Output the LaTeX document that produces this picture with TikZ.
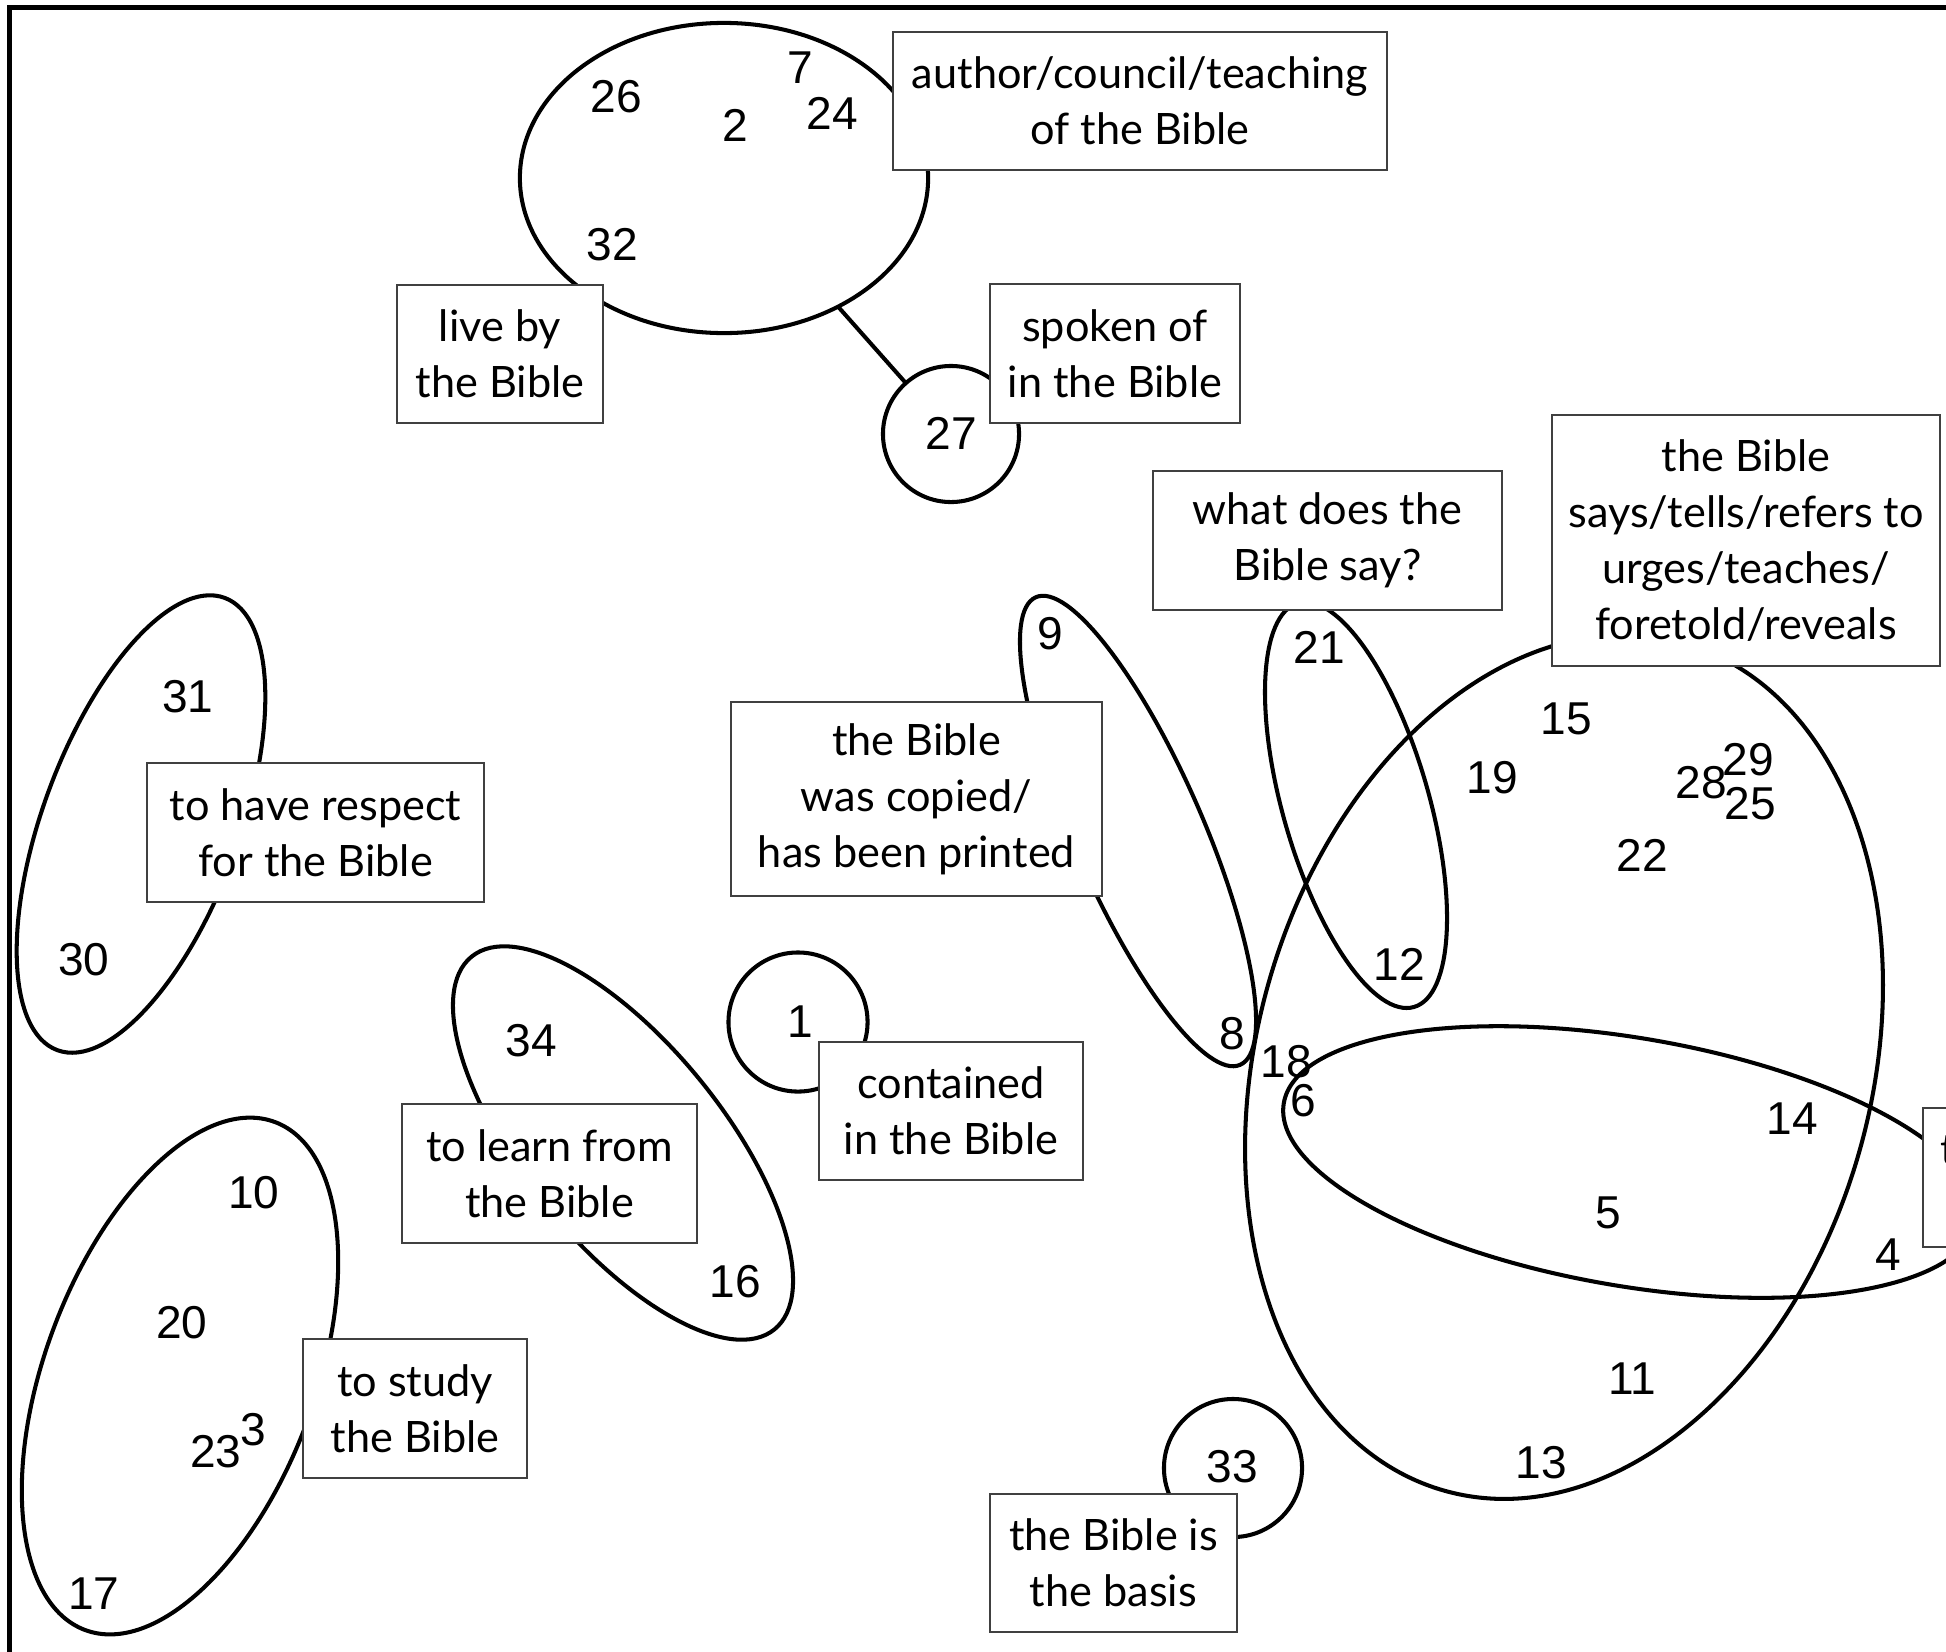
\documentclass[tikz,border=0pt]{standalone}
\usepackage{fontspec}
\setmainfont{Lato}
\newfontfamily\numfont{Liberation Sans}
\usetikzlibrary{shapes.geometric}
\begin{document}
\begin{tikzpicture}[x=0.01cm,y=-0.01cm,
  lbl/.style={draw=black!75, line width=0.4pt, fill=white, align=center, inner sep=0pt, outer sep=0pt,
              font=\fontsize{12.3}{15.9}\selectfont},
  num/.style={font=\numfont\fontsize{13.1}{15}\selectfont, inner sep=0pt},
  grp/.style={draw, ellipse, line width=1.15pt, inner sep=0pt, outer sep=0pt},
  ring/.style={draw, circle, line width=1.15pt, inner sep=0pt, outer sep=0pt},
  frame/.style={line width=1.15pt}]
\useasboundingbox (0,0) rectangle (1946,1651);
\clip (0,0) rectangle (1946,1651);
\fill[white] (0,0) rectangle (1946,1651);
% frame
\coordinate (fb) at (9.5,1700);
\coordinate (fc) at (9.5,7.5);
\coordinate (fr) at (2000,7.5);
\draw[frame] (fb) -- (fc) -- (fr);

% groups (ellipses)
\node[grp, minimum width=4.08cm, minimum height=3.10cm] (eT) at (724,178) {};
\node[grp, rotate=69.7, minimum width=4.82cm, minimum height=1.96cm] (eA) at (141,824) {};
\node[grp, rotate=69.5, minimum width=5.42cm, minimum height=2.70cm] (eB) at (180,1376) {};
\node[grp, rotate=-50.9, minimum width=4.80cm, minimum height=1.99cm] (eC) at (623,1143) {};
\node[grp, rotate=-66.4, minimum width=5.10cm, minimum height=1.29cm] (eD) at (1138,831) {};
\node[grp, rotate=-74, minimum width=4.20cm, minimum height=1.46cm] (eE) at (1356,805) {};
\node[grp, rotate=74.25, minimum width=8.80cm, minimum height=6.14cm] (eF) at (1564,1067) {};
\node[grp, rotate=-9.67, minimum width=7.02cm, minimum height=2.48cm] (eG) at (1630,1162) {};

% single circles
\node[ring, minimum size=1.36cm] (c27) at (951,434) {};
\node[ring, minimum size=1.39cm] (c1) at (798,1022) {};
\node[ring, minimum size=1.38cm] (c33) at (1233,1468) {};
\draw[line width=1.15pt] (eT) -- (c27);

% labels
\node[lbl, minimum width=4.94cm, minimum height=1.38cm] (lAuthor) at (1140,101) {author/council/teaching\\of the Bible};
\node[lbl, minimum width=2.06cm, minimum height=1.38cm] (lLive) at (500,354) {live by\\the Bible};
\node[lbl, minimum width=2.50cm, minimum height=1.39cm] (lSpoken) at (1115,353.5) {spoken of\\in the Bible};
\node[lbl, minimum width=3.49cm, minimum height=1.39cm] (lWhat) at (1327.5,540.5) {what does the\\Bible say?};
\node[lbl, minimum width=3.88cm, minimum height=2.51cm] (lSays) at (1746,540.5) {the Bible\\says/tells/refers to\\urges/teaches/\\foretold/reveals};
\node[lbl, minimum width=3.71cm, minimum height=1.94cm] (lCopied) at (916.5,799) {the Bible\\was copied/\\has been printed};
\node[lbl, minimum width=3.37cm, minimum height=1.39cm] (lRespect) at (315.5,832.5) {to have respect\\for the Bible};
\node[lbl, minimum width=2.95cm, minimum height=1.39cm] (lLearn) at (549.5,1173.5) {to learn from\\the Bible};
\node[lbl, minimum width=2.64cm, minimum height=1.38cm] (lContained) at (951,1111) {contained\\in the Bible};
\node[lbl, minimum width=2.24cm, minimum height=1.39cm] (lStudy) at (415,1408.5) {to study\\the Bible};
\node[lbl, minimum width=2.47cm, minimum height=1.38cm] (lBasis) at (1113.5,1563) {the Bible is\\the basis};
\node[lbl, anchor=north west, minimum width=3.00cm, minimum height=1.39cm] (lCut) at (1923,1108) {};
\node[anchor=west, inner sep=0pt, font=\fontsize{12.3}{15.9}\selectfont] (tCut) at (1940,1150) {t};

% numbers
\node[num] (n26) at (616,97) {26};
\node[num] (n2) at (735,125) {2};
\node[num] (n7) at (800,68) {7};
\node[num] (n24) at (832,113) {24};
\node[num] (n32) at (612,245) {32};
\node[num] (n27) at (951,433) {27};
\node[num] (n31) at (188,697) {31};
\node[num] (n30) at (84,960) {30};
\node[num] (n10) at (254,1193) {10};
\node[num] (n20) at (182,1323) {20};
\node[num] (n23) at (216,1452) {23};
\node[num] (n3) at (253,1430) {3};
\node[num] (n17) at (94,1594) {17};
\node[num] (n34) at (531,1041) {34};
\node[num] (n16) at (735,1282) {16};
\node[num] (n1) at (800,1022) {1};
\node[num] (n9) at (1050,634) {9};
\node[num] (n8) at (1232,1034) {8};
\node[num] (n21) at (1319,647) {21};
\node[num] (n12) at (1399,964) {12};
\node[num] (n15) at (1566,719) {15};
\node[num] (n19) at (1492,778) {19};
\node[num] (n28) at (1701,783) {28};
\node[num] (n29) at (1748,760) {29};
\node[num] (n25) at (1750,804) {25};
\node[num] (n22) at (1642,855) {22};
\node[num] (n18) at (1286,1062) {18};
\node[num] (n6) at (1303,1101) {6};
\node[num] (n14) at (1792,1119) {14};
\node[num] (n5) at (1608,1213) {5};
\node[num] (n4) at (1888,1255) {4};
\node[num] (n11) at (1632,1379) {11};
\node[num] (n13) at (1541,1463) {13};
\node[num] (n33) at (1232,1467) {33};
\end{tikzpicture}
\end{document}
